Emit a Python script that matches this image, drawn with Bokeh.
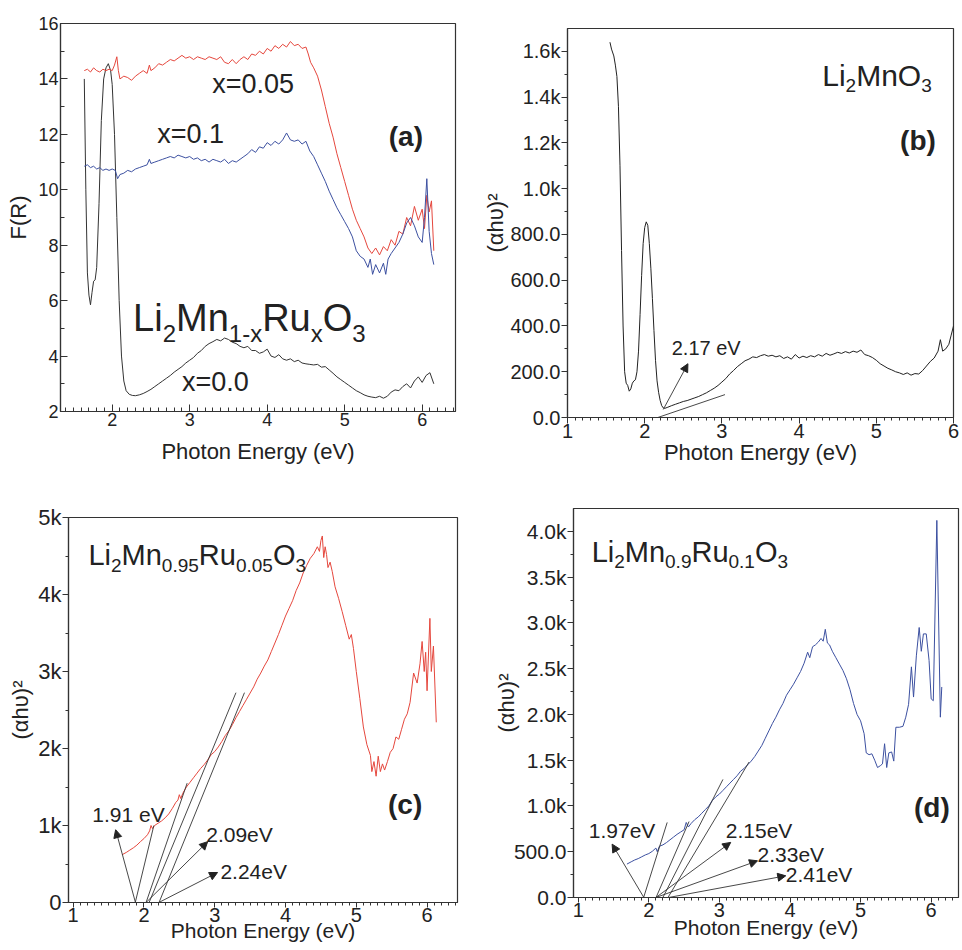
from bokeh.plotting import figure
from bokeh.layouts import column, row
from bokeh.models import FixedTicker, Label, Arrow, NormalHead, Range1d
from bokeh.embed import file_html
from bokeh.resources import INLINE

FONT = "Liberation Sans"
RED = "#e5473d"
BLUE = "#3c50a0"
BLACK = "#222222"

# ---------------- Panel (a): F(R) ----------------
a0_E = [1.64, 1.66, 1.68, 1.70, 1.72, 1.74, 1.76, 1.78, 1.80, 1.83, 1.86, 1.89, 1.92, 1.95, 1.98, 2.00,
        2.03, 2.06, 2.09, 2.12, 2.15, 2.18, 2.22, 2.26, 2.30, 2.35, 2.40, 2.45, 2.50, 2.55, 2.60, 2.65,
        2.70, 2.75, 2.80, 2.85, 2.90, 2.95, 3.00, 3.05, 3.10, 3.15, 3.20, 3.25, 3.30, 3.35, 3.40, 3.45,
        3.50, 3.55, 3.60, 3.65, 3.70, 3.75, 3.80, 3.85, 3.90, 3.95, 4.00, 4.05, 4.10, 4.15, 4.20, 4.25,
        4.30, 4.35, 4.40, 4.45, 4.50, 4.55, 4.60, 4.65, 4.70, 4.75, 4.80, 4.85, 4.90, 4.95, 5.00, 5.05,
        5.10, 5.15, 5.20, 5.25, 5.30, 5.35, 5.40, 5.45, 5.50, 5.55, 5.60, 5.65, 5.70, 5.75, 5.80, 5.85,
        5.90, 5.95, 6.00, 6.05, 6.10, 6.15]
a0_F = [14.0, 10.0, 7.0, 6.2, 5.85, 6.3, 6.7, 6.75, 7.2, 9.5, 12.5, 14.0, 14.4, 14.55, 14.3, 13.8,
        12.0, 9.0, 6.0, 4.0, 3.1, 2.75, 2.62, 2.58, 2.57, 2.6, 2.65, 2.72, 2.8, 2.9, 3.0, 3.1,
        3.2, 3.3, 3.42, 3.52, 3.62, 3.75, 3.85, 3.95, 4.1, 4.2, 4.35, 4.45, 4.52, 4.6, 4.55, 4.65,
        4.6, 4.5, 4.45, 4.35, 4.3, 4.35, 4.2, 4.2, 4.1, 4.15, 4.25, 4.0, 3.95, 4.05, 3.9, 3.85,
        3.9, 3.8, 3.85, 3.75, 3.72, 3.7, 3.68, 3.7, 3.6, 3.62, 3.5, 3.38, 3.25, 3.15, 3.05, 2.95,
        2.85, 2.75, 2.68, 2.6, 2.55, 2.52, 2.5, 2.55, 2.48, 2.55, 2.7, 2.78, 2.75, 2.9, 3.0, 2.85,
        3.1, 3.25, 3.05, 3.3, 3.4, 3.0]

a05_E = [1.64, 1.68, 1.72, 1.76, 1.80, 1.84, 1.88, 1.92, 1.96, 2.00, 2.03, 2.06, 2.08, 2.10, 2.15, 2.20,
         2.25, 2.30, 2.35, 2.40, 2.45, 2.48, 2.50, 2.55, 2.60, 2.65, 2.70, 2.75, 2.80, 2.85, 2.90, 2.95,
         3.00, 3.05, 3.10, 3.15, 3.20, 3.25, 3.30, 3.35, 3.40, 3.45, 3.50, 3.55, 3.60, 3.65, 3.70, 3.75,
         3.80, 3.85, 3.90, 3.95, 4.00, 4.05, 4.10, 4.15, 4.20, 4.25, 4.30, 4.35, 4.40, 4.45, 4.50, 4.53,
         4.56, 4.60, 4.65, 4.70, 4.75, 4.80, 4.85, 4.90, 4.95, 5.00, 5.05, 5.10, 5.15, 5.20, 5.25, 5.30,
         5.35, 5.40, 5.45, 5.50, 5.55, 5.60, 5.65, 5.70, 5.75, 5.80, 5.85, 5.90, 5.95, 6.00, 6.03, 6.06,
         6.09, 6.12, 6.15]
a05_F = [14.3, 14.35, 14.25, 14.4, 14.3, 14.25, 14.35, 14.3, 14.35, 14.3, 14.5, 14.8, 14.3, 14.0, 14.1, 14.05,
         13.95, 14.1, 14.2, 14.3, 14.2, 14.5, 14.3, 14.4, 14.55, 14.5, 14.6, 14.7, 14.65, 14.75, 14.85, 14.75,
         14.8, 14.7, 14.8, 14.75, 14.7, 14.8, 14.75, 14.7, 14.8, 14.6, 14.55, 14.7, 14.55, 14.7, 14.8, 14.7,
         14.9, 14.85, 15.0, 14.9, 15.1, 15.0, 15.2, 15.1, 15.25, 15.15, 15.35, 15.2, 15.25, 15.1, 15.15, 14.9,
         14.6, 14.4, 14.1, 13.6, 13.0, 12.4, 11.9, 11.3, 10.8, 10.3, 9.8, 9.3, 8.9, 8.6, 8.3, 7.9,
         7.7, 7.9, 7.65, 7.95, 7.8, 8.2, 8.0, 8.5, 8.4, 9.0, 8.7, 9.4, 8.9, 9.3, 8.6, 9.8,
         9.2, 9.6, 7.8]

a10_E = [1.64, 1.68, 1.72, 1.76, 1.80, 1.84, 1.88, 1.92, 1.96, 2.00, 2.04, 2.07, 2.10, 2.15, 2.20, 2.25,
         2.30, 2.35, 2.40, 2.45, 2.48, 2.50, 2.55, 2.60, 2.65, 2.70, 2.75, 2.80, 2.85, 2.90, 2.95, 3.00,
         3.05, 3.10, 3.15, 3.20, 3.25, 3.30, 3.35, 3.40, 3.45, 3.50, 3.55, 3.60, 3.65, 3.70, 3.75, 3.80,
         3.85, 3.90, 3.95, 4.00, 4.05, 4.10, 4.15, 4.20, 4.25, 4.30, 4.35, 4.40, 4.45, 4.50, 4.55, 4.60,
         4.65, 4.70, 4.75, 4.80, 4.85, 4.90, 4.95, 5.00, 5.05, 5.10, 5.15, 5.20, 5.25, 5.30, 5.33, 5.36,
         5.40, 5.45, 5.50, 5.53, 5.56, 5.60, 5.65, 5.70, 5.75, 5.80, 5.85, 5.90, 5.95, 6.00, 6.03, 6.06,
         6.09, 6.12, 6.15]
a10_F = [10.85, 10.9, 10.8, 10.85, 10.75, 10.8, 10.7, 10.75, 10.7, 10.75, 10.7, 10.4, 10.55, 10.6, 10.7, 10.65,
         10.75, 10.8, 10.85, 10.9, 11.1, 10.95, 11.0, 11.05, 11.1, 11.15, 11.2, 11.15, 11.25, 11.2, 11.15, 11.2,
         11.1, 11.15, 11.05, 11.1, 11.0, 11.1, 11.05, 11.0, 11.1, 10.95, 11.05, 11.0, 11.1, 11.2, 11.3, 11.45,
         11.35, 11.55, 11.5, 11.7, 11.6, 11.75, 11.65, 11.8, 12.05, 11.8, 11.75, 11.8, 11.65, 11.75, 11.4, 11.2,
         10.9, 10.6, 10.3, 9.95, 9.65, 9.35, 9.1, 8.85, 8.6, 8.3, 7.8, 7.6, 7.5, 7.2, 7.5, 6.95,
         7.3, 7.0, 7.35, 6.95, 7.5, 7.7, 7.9, 8.1, 8.4, 8.8, 9.0, 8.7, 8.3, 8.1, 9.0, 10.4,
         8.5, 7.7, 7.3]

a_labels = ["x=0.05", "x=0.1", "x=0.0"]
a_label_E = [3.29, 2.58, 2.90]
a_label_F = [13.8, 12.03, 3.05]
a_formula = [("Li", 0), ("2", 1), ("Mn", 0), ("1-x", 1), ("Ru", 0), ("x", 1), ("O", 0), ("3", 1)]

# ---------------- Panel (b): Li2MnO3 ----------------
b_E = [1.55, 1.57, 1.60, 1.62, 1.64, 1.66, 1.68, 1.70, 1.72, 1.74, 1.76, 1.78, 1.80, 1.82, 1.84, 1.86,
       1.88, 1.90, 1.92, 1.94, 1.96, 1.98, 2.00, 2.02, 2.04, 2.06, 2.08, 2.10, 2.12, 2.14, 2.16, 2.18,
       2.20, 2.22, 2.24, 2.26, 2.30, 2.35, 2.40, 2.45, 2.50, 2.55, 2.60, 2.65, 2.70, 2.75, 2.80, 2.85,
       2.90, 2.95, 3.00, 3.05, 3.10, 3.15, 3.20, 3.25, 3.30, 3.35, 3.40, 3.45, 3.50, 3.55, 3.60, 3.65,
       3.70, 3.75, 3.80, 3.85, 3.90, 3.95, 4.00, 4.05, 4.10, 4.15, 4.20, 4.25, 4.30, 4.35, 4.40, 4.45,
       4.50, 4.55, 4.60, 4.65, 4.70, 4.75, 4.80, 4.85, 4.90, 4.95, 5.00, 5.05, 5.10, 5.15, 5.20, 5.25,
       5.30, 5.35, 5.40, 5.45, 5.50, 5.55, 5.60, 5.65, 5.70, 5.75, 5.80, 5.83, 5.86, 5.90, 5.94, 5.97,
       6.00]
b_V = [1640, 1610, 1580, 1540, 1490, 1360, 1100, 730, 400, 200, 150, 140, 115, 125, 150, 160,
       165, 200, 290, 450, 620, 760, 830, 855, 840, 760, 650, 520, 380, 250, 160, 110,
       75, 52, 42, 40, 45, 52, 58, 64, 70, 74, 80, 86, 92, 100, 108, 118,
       128, 140, 155, 170, 190, 205, 222, 235, 248, 255, 265, 262, 270, 275, 268, 272,
       265, 270, 258, 265, 255, 275, 260, 268, 262, 270, 265, 275, 268, 280, 272, 278,
       285, 280, 288, 282, 290, 285, 295, 275, 270, 262, 250, 235, 225, 215, 208, 200,
       195, 188, 195, 185, 192, 190, 205, 225, 245, 260, 290, 340, 290, 300, 320, 360,
       400]
b_tan_x0, b_tan_y0, b_tan_x1, b_tan_y1 = [1.30], [-100], [3.04], [100]
b_arr_x0, b_arr_y0, b_arr_x1, b_arr_y1 = [2.24], [35], [2.56], [235]
b_gap_labels = ["2.17 eV"]
b_gap_E, b_gap_V = [2.35], [302]
b_formula = [("Li", 0), ("2", 1), ("MnO", 0), ("3", 1)]

# ---------------- Panel (c): Li2Mn0.95Ru0.05O3 ----------------
c_E = [1.69, 1.75, 1.80, 1.85, 1.90, 1.95, 2.00, 2.05, 2.08, 2.10, 2.12, 2.15, 2.20, 2.25, 2.30, 2.35,
       2.40, 2.45, 2.48, 2.50, 2.52, 2.55, 2.60, 2.65, 2.70, 2.75, 2.80, 2.85, 2.90, 2.95, 3.00, 3.05,
       3.10, 3.15, 3.20, 3.25, 3.30, 3.35, 3.40, 3.45, 3.50, 3.55, 3.60, 3.65, 3.70, 3.75, 3.80, 3.85,
       3.90, 3.95, 4.00, 4.05, 4.10, 4.15, 4.20, 4.25, 4.30, 4.35, 4.40, 4.45, 4.48, 4.50, 4.52, 4.54,
       4.56, 4.58, 4.60, 4.63, 4.66, 4.70, 4.75, 4.80, 4.85, 4.90, 4.93, 4.96, 5.00, 5.05, 5.10, 5.15,
       5.20, 5.22, 5.25, 5.28, 5.31, 5.34, 5.37, 5.40, 5.44, 5.48, 5.52, 5.56, 5.60, 5.64, 5.68, 5.72,
       5.76, 5.81, 5.86, 5.90, 5.93, 5.96, 5.98, 6.00, 6.04, 6.06, 6.09, 6.13]
c_V = [620, 650, 680, 710, 745, 790, 830, 880, 930, 1000, 960, 1000, 1030, 1060, 1100, 1150,
       1220, 1300, 1330, 1400, 1350, 1420, 1500, 1560, 1620, 1680, 1740, 1790, 1850, 1920, 1960, 2020,
       2090, 2170, 2230, 2310, 2400, 2480, 2560, 2640, 2720, 2800, 2900, 2980, 3070, 3150, 3260, 3370,
       3480, 3600, 3720, 3820, 3920, 4050, 4150, 4280, 4380, 4470, 4530, 4620, 4560, 4700, 4760, 4480,
       4620, 4520, 4350, 4420, 4300, 4100, 3950, 3780, 3600, 3420, 3480, 3300, 3000, 2650, 2280, 2050,
       1910, 1700, 1830, 1640, 1900, 1700, 1800, 1720, 1830, 1950, 2000, 2150, 2120, 2250, 2380, 2450,
       2600, 2980, 2850, 3100, 3390, 3000, 3250, 2750, 3690, 3000, 3330, 2340]
c_tan_x0 = [1.83, 2.00, 2.05, 2.16]
c_tan_y0 = [-180, -80, -50, -120]
c_tan_x1 = [2.14, 2.61, 3.30, 3.42]
c_tan_y1 = [1000, 1550, 2725, 2725]
c_arr_x0 = [1.88, 2.03, 2.21]
c_arr_y0 = [0, 0, 0]
c_arr_x1 = [1.60, 2.90, 3.04]
c_arr_y1 = [945, 790, 390]
c_gap_labels = ["1.91 eV", "2.09eV", "2.24eV"]
c_gap_E = [1.27, 2.88, 3.08]
c_gap_V = [1147, 883, 406]
c_formula = [("Li", 0), ("2", 1), ("Mn", 0), ("0.95", 1), ("Ru", 0), ("0.05", 1), ("O", 0), ("3", 1)]

# ---------------- Panel (d): Li2Mn0.9Ru0.1O3 ----------------
d_E = [1.69, 1.75, 1.80, 1.85, 1.90, 1.95, 2.00, 2.05, 2.10, 2.12, 2.15, 2.20, 2.25, 2.30, 2.35, 2.40,
       2.45, 2.50, 2.53, 2.56, 2.60, 2.65, 2.70, 2.75, 2.80, 2.85, 2.90, 2.95, 3.00, 3.05, 3.10, 3.15,
       3.20, 3.25, 3.30, 3.35, 3.40, 3.45, 3.50, 3.55, 3.60, 3.65, 3.70, 3.75, 3.80, 3.85, 3.90, 3.95,
       4.00, 4.05, 4.10, 4.15, 4.20, 4.25, 4.28, 4.32, 4.36, 4.40, 4.44, 4.47, 4.50, 4.53, 4.56, 4.60,
       4.65, 4.70, 4.75, 4.80, 4.85, 4.90, 4.95, 5.00, 5.05, 5.08, 5.12, 5.16, 5.20, 5.24, 5.28, 5.31,
       5.34, 5.37, 5.40, 5.44, 5.47, 5.50, 5.55, 5.60, 5.64, 5.68, 5.72, 5.75, 5.79, 5.83, 5.86, 5.89,
       5.93, 5.97, 6.00, 6.03, 6.08, 6.13, 6.15]
d_V = [365, 390, 410, 425, 445, 465, 480, 505, 540, 500, 560, 575, 600, 630, 660, 690,
       715, 740, 820, 770, 810, 850, 880, 920, 960, 1000, 1060, 1100, 1130, 1170, 1210, 1250,
       1290, 1330, 1380, 1410, 1450, 1490, 1540, 1600, 1660, 1740, 1820, 1900, 1970, 2050, 2120, 2210,
       2270, 2330, 2400, 2470, 2560, 2680, 2620, 2740, 2760, 2790, 2830, 2800, 2930, 2780, 2760, 2690,
       2620, 2550, 2480, 2390, 2270, 2120, 2000, 1930, 1790, 1580, 1560, 1570, 1500, 1420, 1440, 1460,
       1680, 1420, 1580, 1590, 1490, 1860, 1860, 1870, 1970, 2110, 2520, 2190, 2640, 2950, 2690, 2880,
       2880, 2590, 2170, 2150, 4120, 1970, 2300]
d_tan_x0 = [1.89, 2.08, 2.12, 2.17]
d_tan_y0 = [-90, -40, -120, -130]
d_tan_x1 = [2.26, 2.57, 3.05, 3.42]
d_tan_y1 = [820, 830, 1290, 1480]
d_arr_x0 = [1.93, 2.10, 2.10, 2.28]
d_arr_y0 = [0, 0, 0, 0]
d_arr_x1 = [1.48, 3.16, 3.54, 3.94]
d_arr_y1 = [583, 602, 401, 237]
d_gap_labels = ["1.97eV", "2.15eV", "2.33eV", "2.41eV"]
d_gap_E = [1.15, 3.09, 3.54, 3.94]
d_gap_V = [736, 736, 467, 248]
d_formula = [("Li", 0), ("2", 1), ("Mn", 0), ("0.9", 1), ("Ru", 0), ("0.1", 1), ("O", 0), ("3", 1)]

# tick labels
b_yticks = [0, 200, 400, 600, 800, 1000, 1200, 1400, 1600]
b_ytick_labels = ["0.0", "200.0", "400.0", "600.0", "800.0", "1.0k", "1.2k", "1.4k", "1.6k"]
c_yticks = [0, 1000, 2000, 3000, 4000, 5000]
c_ytick_labels = ["0", "1k", "2k", "3k", "4k", "5k"]
d_yticks = [0, 500, 1000, 1500, 2000, 2500, 3000, 3500, 4000]
d_ytick_labels = ["0.0", "500.0", "1.0k", "1.5k", "2.0k", "2.5k", "3.0k", "3.5k", "4.0k"]

YLAB = "(\u03b1h\u03c5)\u00b2"
XLAB = "Photon Energy (eV)"

W = {'L': 0.556, 'i': 0.222, 'M': 0.833, 'n': 0.556, 'O': 0.778, 'R': 0.722, 'u': 0.556,
     'x': 0.5, '-': 0.333, '.': 0.278}


def twidth(s, size):
    return sum(W.get(ch, 0.556) for ch in s) * size


def make_fig(w, h, xr, yr, bl, br, bt, bb, inward, xt_size, yt_size):
    p = figure(width=w, height=h, x_range=Range1d(*xr), y_range=Range1d(*yr),
               output_backend="svg", toolbar_location=None,
               min_border_left=bl, min_border_right=br, min_border_top=bt, min_border_bottom=bb)
    p.xgrid.visible = False
    p.ygrid.visible = False
    p.outline_line_color = "#333333"
    p.outline_line_width = 1.2
    p.background_fill_color = "white"
    p.border_fill_color = "white"
    for ax, sz in ((p.xaxis[0], xt_size), (p.yaxis[0], yt_size)):
        ax.axis_line_color = "#333333"
        ax.axis_line_width = 1.2
        ax.major_tick_line_color = "#333333"
        ax.minor_tick_line_color = "#333333"
        if inward:
            ax.major_tick_in, ax.major_tick_out = 7, 0
            ax.minor_tick_in, ax.minor_tick_out = 4, 0
        else:
            ax.major_tick_in, ax.major_tick_out = 0, 6
            ax.minor_tick_in, ax.minor_tick_out = 0, 3
        ax.major_label_text_font = FONT
        ax.major_label_text_font_size = f"{sz}px"
        ax.major_label_text_color = BLACK
        ax.axis_label_text_font = FONT
        ax.axis_label_text_font_style = "normal"
        ax.axis_label_text_color = BLACK
    return p


def add_formula(p, x, y, segs, big, small, drop):
    off = 0.0
    for txt, sub in segs:
        size = small if sub else big
        p.add_layout(Label(x=x, y=y, x_offset=off, y_offset=-drop if sub else 0, text=txt,
                           text_font=FONT, text_font_size=f"{size}px", text_color=BLACK,
                           text_align="left", text_baseline="alphabetic"))
        off += twidth(txt, size)


def add_text(p, x, y, txt, size, bold=False, align="left"):
    p.add_layout(Label(x=x, y=y, text=txt, text_font=FONT, text_font_size=f"{size}px",
                       text_font_style="bold" if bold else "normal", text_color=BLACK,
                       text_align=align, text_baseline="middle"))


def add_lines(p, x0, y0, x1, y1, head):
    for i in range(len(x0)):
        if head:
            end = NormalHead(size=8, fill_color=BLACK, line_color=BLACK, line_width=1)
        else:
            end = None
        p.add_layout(Arrow(x_start=x0[i], y_start=y0[i], x_end=x1[i], y_end=y1[i], end=end,
                           line_color="#333333", line_width=0.9))


def e_ticks(lo, hi):
    return [round(lo + 0.1 * i, 2) for i in range(int(round((hi - lo) / 0.1)) + 1)]


# ---------- (a)   page has no margin: figures tile the window from (0, 0)
pa = make_fig(478, 470, (1.333, 6.43), (2, 16), 60, 23, 23, 59, True, 18, 18)
pa.xaxis.ticker = FixedTicker(ticks=[2, 3, 4, 5, 6], minor_ticks=e_ticks(1.4, 6.4))
pa.yaxis.ticker = FixedTicker(ticks=[2, 4, 6, 8, 10, 12, 14, 16], minor_ticks=[3, 5, 7, 9, 11, 13, 15])
pa.xaxis.axis_label = XLAB
pa.yaxis.axis_label = "F(R)"
pa.xaxis.axis_label_text_font_size = "22px"
pa.yaxis.axis_label_text_font_size = "22px"
pa.xaxis.major_label_standoff = 1
pa.xaxis.axis_label_standoff = 10
pa.yaxis.major_label_standoff = 2
pa.yaxis.axis_label_standoff = 4
pa.line(a0_E, a0_F, line_color="#333333", line_width=1)
pa.line(a05_E, a05_F, line_color=RED, line_width=1)
pa.line(a10_E, a10_F, line_color=BLUE, line_width=1)
for t, x, y in zip(a_labels, a_label_E, a_label_F):
    add_text(pa, x, y, t, 27)
add_text(pa, 5.79, 11.92, "(a)", 28, bold=True, align="center")
add_formula(pa, 2.27, 5.39, a_formula, 38, 24, 16)

# ---------- (b)
pb = make_fig(482, 470, (1.0, 6.0), (0, 1700), 89, 7, 28, 53, False, 20, 20)
pb.xaxis.ticker = FixedTicker(ticks=[1, 2, 3, 4, 5, 6], minor_ticks=e_ticks(1.0, 6.0))
pb.yaxis.ticker = FixedTicker(ticks=b_yticks, minor_ticks=list(range(100, 1700, 200)))
pb.yaxis.major_label_overrides = dict(zip(b_yticks, b_ytick_labels))
pb.xaxis.axis_label = XLAB
pb.yaxis.axis_label = YLAB
pb.xaxis.axis_label_text_font_size = "22px"
pb.yaxis.axis_label_text_font_size = "22px"
pb.xaxis.major_label_standoff = 0
pb.xaxis.axis_label_standoff = -1
pb.yaxis.major_label_standoff = 1
pb.yaxis.axis_label_standoff = -1
pb.line(b_E, b_V, line_color=BLACK, line_width=1)
add_lines(pb, b_tan_x0, b_tan_y0, b_tan_x1, b_tan_y1, False)
add_lines(pb, b_arr_x0, b_arr_y0, b_arr_x1, b_arr_y1, True)
for t, x, y in zip(b_gap_labels, b_gap_E, b_gap_V):
    add_text(pb, x, y, t, 20)
add_text(pb, 5.54, 1211, "(b)", 28, bold=True, align="center")
add_formula(pb, 4.30, 1495, b_formula, 30, 19, 10)

# ---------- (c)
pc = make_fig(478, 478, (0.934, 6.43), (0, 5000), 68, 21, 47, 46, False, 20, 22)
pc.xaxis.ticker = FixedTicker(ticks=[1, 2, 3, 4, 5, 6], minor_ticks=e_ticks(1.0, 6.4))
pc.yaxis.ticker = FixedTicker(ticks=c_yticks, minor_ticks=[500, 1500, 2500, 3500, 4500])
pc.yaxis.major_label_overrides = dict(zip(c_yticks, c_ytick_labels))
pc.xaxis.axis_label = XLAB
pc.yaxis.axis_label = YLAB
pc.xaxis.axis_label_text_font_size = "21px"
pc.yaxis.axis_label_text_font_size = "22px"
pc.xaxis.major_tick_out = 5
pc.xaxis.major_label_standoff = 0
pc.xaxis.axis_label_standoff = -6
pc.yaxis.major_label_standoff = 1
pc.yaxis.axis_label_standoff = 2
pc.line(c_E, c_V, line_color=RED, line_width=1)
add_lines(pc, c_tan_x0, c_tan_y0, c_tan_x1, c_tan_y1, False)
add_lines(pc, c_arr_x0, c_arr_y0, c_arr_x1, c_arr_y1, True)
for t, x, y in zip(c_gap_labels, c_gap_E, c_gap_V):
    add_text(pc, x, y, t, 21)
add_text(pc, 5.69, 1276, "(c)", 28, bold=True, align="center")
add_formula(pc, 1.216, 4510, c_formula, 29, 19, 10)

# ---------- (d)
pd_ = make_fig(482, 478, (0.933, 6.387), (0, 4250), 95, 2, 38, 51, False, 20, 21)
pd_.xaxis.ticker = FixedTicker(ticks=[1, 2, 3, 4, 5, 6], minor_ticks=e_ticks(1.0, 6.3))
pd_.yaxis.ticker = FixedTicker(ticks=d_yticks, minor_ticks=list(range(250, 4250, 500)))
pd_.yaxis.major_label_overrides = dict(zip(d_yticks, d_ytick_labels))
pd_.xaxis.axis_label = XLAB
pd_.yaxis.axis_label = YLAB
pd_.xaxis.axis_label_text_font_size = "21px"
pd_.yaxis.axis_label_text_font_size = "22px"
pd_.xaxis.major_tick_out = 5
pd_.xaxis.major_label_standoff = 0
pd_.xaxis.axis_label_standoff = -4
pd_.yaxis.major_label_standoff = 1
pd_.yaxis.axis_label_standoff = -8
pd_.line(d_E, d_V, line_color=BLUE, line_width=1)
add_lines(pd_, d_tan_x0, d_tan_y0, d_tan_x1, d_tan_y1, False)
add_lines(pd_, d_arr_x0, d_arr_y0, d_arr_x1, d_arr_y1, True)
for t, x, y in zip(d_gap_labels, d_gap_E, d_gap_V):
    add_text(pd_, x, y, t, 21)
add_text(pd_, 6.01, 986, "(d)", 28, bold=True, align="center")
add_formula(pd_, 1.19, 3771, d_formula, 29, 19, 9)

# each figure sits in its own box so that the frames are not aligned across panels
layout = column(row(column(pa), column(pb)), row(column(pc), column(pd_)))
open("out.html", "w").write(file_html(layout, INLINE))
